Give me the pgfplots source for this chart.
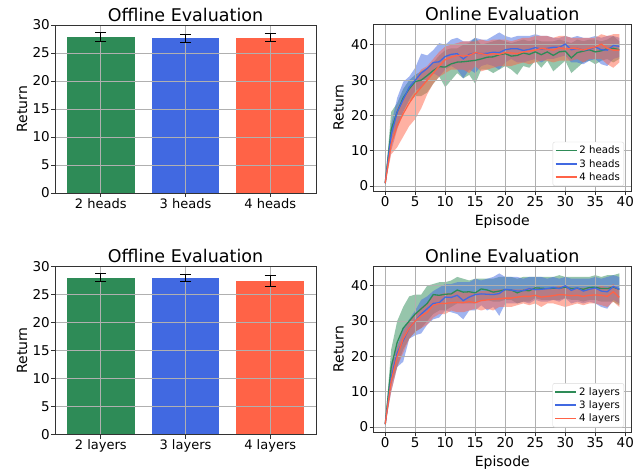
\documentclass[border=0pt]{standalone}
\usepackage{fontspec}
\setmainfont{DejaVu Sans}
\usepackage{pgfplots}
\usepackage{pgfplotstable}
\usepgfplotslibrary{fillbetween}
\pgfplotsset{compat=1.18}
\definecolor{sgreen}{HTML}{2E8B57}
\definecolor{rblue}{HTML}{4169E1}
\definecolor{tomato}{HTML}{FF6347}
\definecolor{gridc}{HTML}{B0B0B0}

\pgfplotstableread{
x g gl gh b bl bh r rl rh
0 0.8 0.5 1.0 0.8 0.5 1.0 0.8 0.5 1.0
1 16.0 13.0 21.0 14.5 10.0 17.5 12.0 9.0 15.0
2 21.0 17.0 23.5 21.0 16.0 25.0 17.0 11.0 22.0
3 25.0 21.0 27.5 24.5 21.0 29.5 20.5 14.0 25.0
4 27.5 24.0 30.0 28.0 24.5 31.0 23.5 17.0 28.0
5 29.6 25.5 31.5 30.0 27.0 33.5 26.0 19.0 30.5
6 30.0 25.5 32.5 32.0 28.0 37.5 28.0 22.0 33.0
7 31.3 26.5 33.5 33.3 30.0 37.0 30.0 26.0 34.0
8 32.7 29.0 35.0 35.0 32.0 38.5 32.0 29.0 36.0
9 33.8 31.0 37.0 35.2 31.0 40.5 34.0 31.0 38.0
10 33.7 28.0 38.5 36.7 33.0 40.0 35.8 32.0 39.5
11 34.6 30.0 39.0 37.3 34.0 41.5 36.5 33.0 40.0
12 35.1 32.0 39.0 37.5 33.0 42.0 37.0 33.0 40.5
13 35.2 30.5 40.0 36.0 30.5 41.0 36.8 33.0 41.0
14 35.4 31.5 40.5 37.3 33.0 41.0 37.0 32.0 41.0
15 35.6 29.0 42.0 37.7 32.0 42.0 37.8 34.0 41.0
16 36.0 33.0 40.0 37.5 34.0 41.5 37.5 32.5 41.5
17 36.5 33.0 40.5 37.6 34.5 41.5 37.2 33.0 41.0
18 36.6 32.0 41.0 37.9 34.0 42.5 37.5 33.5 41.5
19 37.2 33.0 41.5 37.8 33.0 43.5 37.3 34.0 41.5
20 37.5 34.0 41.0 38.6 35.0 42.5 37.8 34.0 41.5
21 36.8 33.0 40.5 38.9 36.0 42.0 37.7 34.0 41.0
22 37.0 31.5 41.0 38.9 35.0 42.5 37.5 34.5 41.5
23 37.7 34.0 41.5 38.4 35.0 42.5 38.0 35.0 42.0
24 37.3 33.5 41.0 38.7 35.5 42.5 38.2 34.5 42.0
25 38.0 35.5 41.5 39.2 36.0 43.0 38.5 35.0 42.5
26 37.2 33.5 41.0 38.8 35.0 42.5 39.0 35.5 42.5
27 38.0 35.5 41.0 39.0 36.0 42.5 38.8 35.5 42.5
28 37.0 32.5 41.0 39.3 36.0 42.0 38.5 35.0 42.0
29 38.0 34.0 41.5 39.3 36.5 42.0 39.2 35.5 42.5
30 38.2 35.5 41.0 40.2 37.0 42.5 38.8 35.5 42.5
31 36.3 32.0 40.5 38.6 35.0 42.0 39.0 35.5 42.0
32 37.8 33.5 41.5 39.0 35.0 42.5 39.0 36.0 42.0
33 38.2 35.0 41.0 38.5 34.5 42.0 38.5 35.0 42.0
34 38.6 35.5 41.5 38.7 35.5 42.0 39.0 36.0 42.0
35 38.0 34.5 41.5 39.4 36.0 42.5 39.4 36.0 42.0
36 38.3 35.5 41.0 38.6 34.5 42.0 40.2 36.0 43.0
37 38.9 36.0 41.5 38.5 34.0 42.5 39.0 34.5 42.5
38 39.0 35.0 42.5 39.8 36.0 42.5 38.5 33.5 43.0
39 38.6 36.0 41.0 39.6 36.5 42.0 38.5 35.0 43.0
}\heads

\pgfplotstableread{
x g gl gh b bl bh r rl rh
0 0.8 0.5 1.0 0.8 0.5 1.0 0.8 0.5 1.0
1 17.0 12.0 22.0 14.0 10.0 18.0 13.0 10.0 16.0
2 24.0 17.0 30.0 21.0 17.0 23.0 20.0 17.0 22.5
3 28.0 22.0 34.0 24.5 18.5 28.0 25.0 21.0 27.0
4 30.0 25.0 37.0 28.0 25.0 30.5 28.0 25.0 30.0
5 32.0 27.0 37.5 30.0 26.0 33.0 30.0 27.0 32.0
6 33.5 28.0 37.5 32.0 26.5 36.0 31.5 28.0 34.0
7 35.0 30.0 40.0 33.5 29.0 37.0 32.5 29.0 35.0
8 37.5 32.0 40.5 35.0 30.5 38.5 34.5 31.0 37.0
9 37.3 33.0 41.0 35.2 31.0 39.5 35.0 32.0 37.5
10 37.6 33.0 41.0 36.8 33.0 40.5 35.0 32.0 38.0
11 37.7 34.0 41.5 36.7 32.5 40.5 35.2 33.0 38.0
12 38.8 35.0 42.5 37.3 32.0 41.0 35.3 32.5 38.5
13 38.2 35.0 42.0 35.8 30.5 41.0 35.2 32.5 38.0
14 38.3 35.0 41.5 36.8 33.0 41.0 35.5 33.0 38.5
15 38.0 35.0 42.0 37.5 33.0 42.0 35.2 33.5 38.0
16 39.1 36.0 42.0 37.7 34.5 41.5 35.8 33.0 38.5
17 38.8 36.0 42.0 37.6 33.0 42.0 36.0 33.5 38.5
18 38.2 35.5 42.0 37.5 34.0 42.5 36.2 33.0 39.0
19 38.5 35.5 42.5 37.8 31.5 43.5 36.3 34.0 39.0
20 38.9 36.0 42.5 39.0 35.0 42.5 36.5 34.0 39.0
21 38.8 36.0 42.5 38.8 35.0 42.5 36.5 34.0 39.0
22 38.0 35.0 42.0 38.5 35.0 42.5 36.8 34.5 39.0
23 38.7 35.5 42.5 38.6 35.5 42.0 37.0 35.0 39.0
24 38.6 35.5 42.5 39.2 35.0 42.5 37.0 34.5 39.5
25 39.4 36.5 42.5 38.9 36.0 42.5 37.3 35.0 39.5
26 39.3 36.0 42.5 39.0 35.5 42.5 36.8 34.0 39.5
27 39.2 36.0 42.5 39.2 35.5 42.0 37.0 35.0 39.0
28 39.3 36.0 42.5 39.5 36.0 42.5 37.2 35.0 39.5
29 39.3 36.0 43.0 39.2 35.5 42.0 37.5 34.5 40.0
30 39.6 36.5 42.5 40.0 36.5 42.5 37.4 34.0 40.0
31 39.2 36.0 42.5 38.7 35.0 42.0 37.2 34.5 39.5
32 39.3 36.0 42.5 39.4 35.5 42.0 37.3 35.0 39.5
33 39.0 35.5 42.5 38.5 35.0 42.0 37.0 34.5 39.5
34 39.5 36.0 42.5 39.0 35.5 42.0 37.3 35.0 39.5
35 39.6 36.0 43.0 39.4 35.0 42.5 37.4 35.0 39.5
36 39.2 35.5 42.5 38.5 34.0 42.0 37.3 34.5 40.0
37 39.2 35.5 43.0 38.3 33.5 42.5 37.0 34.0 39.5
38 39.6 35.5 43.0 39.8 36.0 43.0 38.3 35.5 40.5
39 39.0 34.5 43.5 39.0 35.0 42.5 36.7 34.0 39.0
}\layers

\pgfplotsset{
  common/.style={
    scale only axis, anchor=south west,
    set layers=axis on top,
    grid=major, major grid style={gridc, line width=0.9pt},
    axis line style={black!80, line width=0.9pt},
    tick align=outside, tick pos=left, major tick length=4pt,
    every tick/.style={black!80, line width=0.8pt},
    /pgf/number format/assume math mode=true,
    ticklabel style={font=\fontsize{13.5}{14}\selectfont, inner sep=1pt},
    every axis title shift=0pt,
    title style={at={(axis description cs:0.5,1)}, anchor=base, yshift=3.3pt, font=\fontsize{17.5}{18}\selectfont},
    label style={font=\fontsize{14}{15}\selectfont},
  },
  barax/.style={common, width=261pt, height=168pt,
    xmin=-0.54, xmax=2.54, ymin=0, ymax=30, ytick={0,5,...,30}, xtick={0,1,2},
    xticklabel style={font=\fontsize{13}{14}\selectfont},
    ylabel style={at={(axis description cs:-0.107,0.5)}, anchor=base},
    ylabel={Return}, title={Offline Evaluation}},
  onax/.style={common, width=257.5pt,
    xmin=-1.95, xmax=40.95, xtick={0,5,...,40}, ytick={0,10,...,40},
    ylabel style={at={(axis description cs:-0.1165,0.5)}, anchor=base},
    xlabel style={at={(axis description cs:0.5,0)}, anchor=base, yshift=-34.4pt},
    ylabel={Return}, xlabel={Episode}, title={Online Evaluation},
    legend style={at={(axis description cs:0.973,0.03)}, anchor=south east,
      font=\fontsize{10.2}{12}\selectfont, draw=black!15, rounded corners=2pt,
      fill=white, inner sep=2pt},
    legend cell align=left,
    legend image code/.code={\draw[##1, line width=1.5pt] (0pt,0pt) -- (21pt,0pt);}},
  barp/.style={ybar, bar width=0.8, bar shift=0pt, draw=none},
  errp/.style={on layer=axis foreground, draw=none, no markers, forget plot,
    error bars/.cd, y dir=both, y explicit,
    error bar style={draw=black, line width=1pt},
    error mark options={draw=black, mark size=5.5pt, line width=1pt, rotate=90}},
  band/.style={draw=none, forget plot},
  mline/.style={line width=1.3pt, on layer=axis foreground},
}

\begin{document}
\begin{tikzpicture}

% top left
\begin{axis}[barax, at={(55pt,277pt)}, xticklabels={2 heads,3 heads,4 heads}]
\addplot[fill=sgreen, barp] coordinates {(0,27.8)};
\addplot[fill=rblue, barp] coordinates {(1,27.6)};
\addplot[fill=tomato, barp] coordinates {(2,27.75)};
\addplot[errp] coordinates {(0,27.8) +- (0,0.77) (1,27.6) +- (0,0.65) (2,27.75) +- (0,0.68)};
\end{axis}

% bottom left
\begin{axis}[barax, at={(55pt,35.3pt)}, height=168.4pt, xticklabels={2 layers,3 layers,4 layers}]
\addplot[fill=sgreen, barp] coordinates {(0,28.0)};
\addplot[fill=rblue, barp] coordinates {(1,27.9)};
\addplot[fill=tomato, barp] coordinates {(2,27.4)};
\addplot[errp] coordinates {(0,28.0) +- (0,0.65) (1,27.9) +- (0,0.65) (2,27.4) +- (0,0.95)};
\end{axis}

% top right
\begin{axis}[onax, at={(373.5pt,279pt)}, height=167pt, ymin=-1.4, ymax=45.9]
\addplot[band, name path=hgl] table[x=x, y=gl] {\heads};
\addplot[band, name path=hgh] table[x=x, y=gh] {\heads};
\addplot[fill=sgreen, fill opacity=0.5, draw=none, forget plot] fill between[of=hgl and hgh];
\addplot[band, name path=hbl] table[x=x, y=bl] {\heads};
\addplot[band, name path=hbh] table[x=x, y=bh] {\heads};
\addplot[fill=rblue, fill opacity=0.5, draw=none, forget plot] fill between[of=hbl and hbh];
\addplot[band, name path=hrl] table[x=x, y=rl] {\heads};
\addplot[band, name path=hrh] table[x=x, y=rh] {\heads};
\addplot[fill=tomato, fill opacity=0.5, draw=none, forget plot] fill between[of=hrl and hrh];
\addplot[mline, sgreen] table[x=x, y=g] {\heads};
\addlegendentry{2 heads}
\addplot[mline, rblue] table[x=x, y=b] {\heads};
\addlegendentry{3 heads}
\addplot[mline, tomato] table[x=x, y=r] {\heads};
\addlegendentry{4 heads}
\end{axis}

% bottom right
\begin{axis}[onax, at={(373.5pt,37.7pt)}, height=166.3pt, ymin=-1.5, ymax=45.6]
\addplot[band, name path=lgl] table[x=x, y=gl] {\layers};
\addplot[band, name path=lgh] table[x=x, y=gh] {\layers};
\addplot[fill=sgreen, fill opacity=0.5, draw=none, forget plot] fill between[of=lgl and lgh];
\addplot[band, name path=lbl] table[x=x, y=bl] {\layers};
\addplot[band, name path=lbh] table[x=x, y=bh] {\layers};
\addplot[fill=rblue, fill opacity=0.5, draw=none, forget plot] fill between[of=lbl and lbh];
\addplot[band, name path=lrl] table[x=x, y=rl] {\layers};
\addplot[band, name path=lrh] table[x=x, y=rh] {\layers};
\addplot[fill=tomato, fill opacity=0.5, draw=none, forget plot] fill between[of=lrl and lrh];
\addplot[mline, sgreen] table[x=x, y=g] {\layers};
\addlegendentry{2 layers}
\addplot[mline, rblue] table[x=x, y=b] {\layers};
\addlegendentry{3 layers}
\addplot[mline, tomato] table[x=x, y=r] {\layers};
\addlegendentry{4 layers}
\end{axis}

\pgfresetboundingbox
\path (0pt,0pt) rectangle (643pt,470pt);
\end{tikzpicture}
\end{document}
